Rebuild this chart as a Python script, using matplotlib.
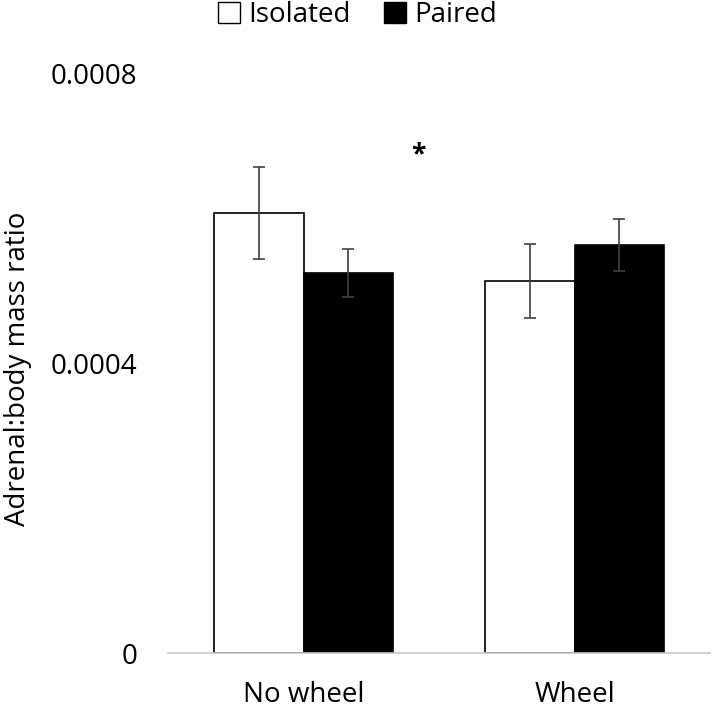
import numpy as np
import matplotlib
matplotlib.use('Agg')
import matplotlib.pyplot as plt
from matplotlib.patches import Patch

plt.rcParams['font.family'] = ['Open Sans', 'DejaVu Sans']

# 数据
categories = ['No wheel', 'Wheel']
groups = ['Isolated', 'Paired']
isolated_vals = [0.000607, 0.000513]
isolated_err = [0.000063, 0.000051]
paired_vals = [0.000524, 0.000563]
paired_err = [0.0000335, 0.000036]
yticks = [0, 0.0004, 0.0008]
ytick_labels = ['0', '0.0004', '0.0008']

fig = plt.figure(figsize=(7.15, 7.10), dpi=100)
ax = fig.add_axes([168 / 715, (710 - 653) / 710, (710 - 168) / 715, (653 - 73) / 710])

x = np.arange(len(categories))
w = 0.33
ekw = dict(ecolor='#404040', elinewidth=1.2, capsize=4, capthick=1.2)
ax.bar(x - w / 2, isolated_vals, w, yerr=isolated_err, color='white',
       edgecolor='black', linewidth=1.2, error_kw=ekw, label=groups[0])
ax.bar(x + w / 2, paired_vals, w, yerr=paired_err, color='black',
       edgecolor='black', linewidth=1.2, error_kw=ekw, label=groups[1])

# 显著性标记
ax.text(0.425, 0.000687, '*', ha='center', va='center', fontsize=19, fontweight='bold')

ax.set_xlim(-0.5, 1.5)
ax.set_ylim(0, 0.0008)
ax.set_yticks(yticks)
ax.set_yticklabels(ytick_labels)
ax.set_xticks(x)
ax.set_xticklabels(categories)
ax.tick_params(axis='y', length=0, pad=22, labelsize=20)
ax.tick_params(axis='x', length=0, pad=20, labelsize=20)
for s in ['top', 'right', 'left']:
    ax.spines[s].set_visible(False)
ax.spines['bottom'].set_color('#c8c8c8')
ax.spines['bottom'].set_linewidth(1.2)
ax.set_ylabel('Adrenal:body mass ratio', fontsize=20)
ax.yaxis.set_label_coords(-0.250, 0.49)

handles = [Patch(facecolor='white', edgecolor='black', linewidth=1),
           Patch(facecolor='black', edgecolor='black')]
fig.legend(handles, groups, loc='center', bbox_to_anchor=(0.5, 1 - 15 / 710),
           ncol=2, frameon=False, fontsize=20, handlelength=0.8, handleheight=0.8,
           handletextpad=0.3, columnspacing=1.2)

fig.savefig('out.png', dpi=100)
